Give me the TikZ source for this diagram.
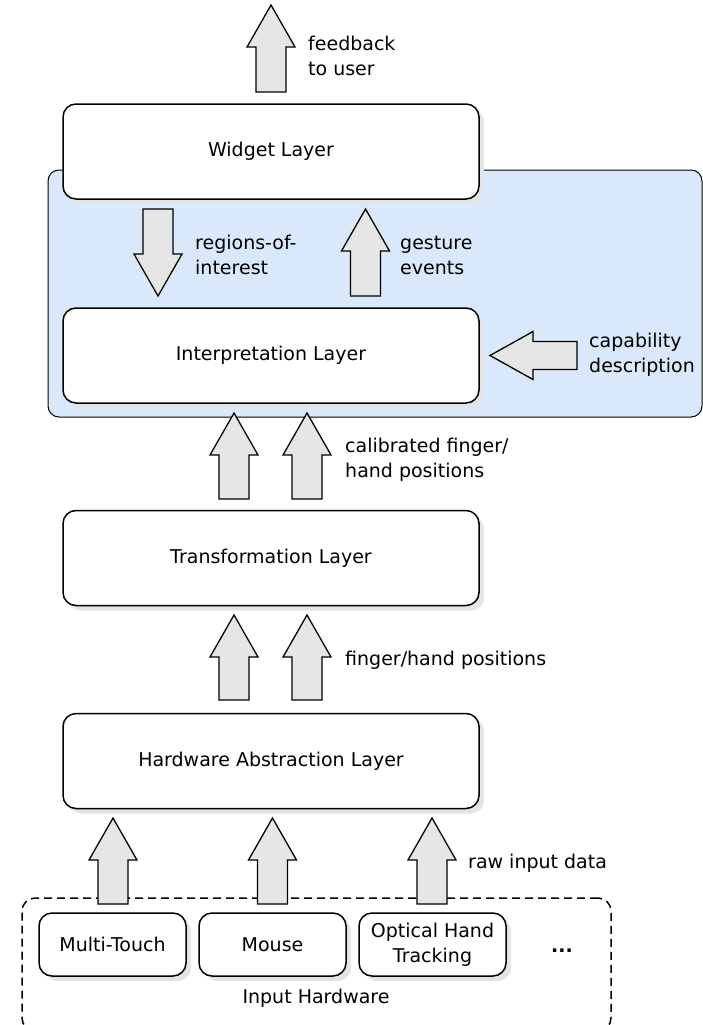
\documentclass[tikz,border=0pt]{standalone}
\usepackage{fontspec}
\setmainfont{DejaVu Sans}
\usetikzlibrary{shadows}
\definecolor{bluefill}{HTML}{DAE8FC}
\definecolor{arrowgray}{HTML}{E6E6E6}
\definecolor{shadowgray}{HTML}{E4E4E4}
% block arrows: #1 = centre, #2 = tip, #3 = base
\newcommand\blkup[3]{\draw[blockarrow] (#1-15,#3) -- (#1-15,#2+42) -- (#1-24,#2+42) -- (#1,#2) -- (#1+24,#2+42) -- (#1+15,#2+42) -- (#1+15,#3) -- cycle;}
\newcommand\blkdown[3]{\draw[blockarrow] (#1-15,#3) -- (#1-15,#2-42) -- (#1-24,#2-42) -- (#1,#2) -- (#1+24,#2-42) -- (#1+15,#2-42) -- (#1+15,#3) -- cycle;}
\newcommand\blkleft[3]{\draw[blockarrow] (#3,#1-14) -- (#2+43,#1-14) -- (#2+43,#1-24) -- (#2,#1) -- (#2+43,#1+24) -- (#2+43,#1+14) -- (#3,#1+14) -- cycle;}
\begin{document}
\begin{tikzpicture}[x=1pt,y=-1pt,
  font=\fontsize{19}{25}\selectfont,
  layer/.style={draw, line width=1.5pt, rounded corners=13pt, fill=white,
    minimum width=416pt, minimum height=95pt,
    general shadow={fill=shadowgray, shadow xshift=5pt, shadow yshift=-5pt}},
  hwbox/.style={draw, line width=1.5pt, rounded corners=13pt, fill=white,
    minimum width=147pt, minimum height=63pt, align=center, inner sep=0pt,
    general shadow={fill=shadowgray, shadow xshift=5pt, shadow yshift=-5pt}},
  blockarrow/.style={draw, line width=1.3pt, fill=arrowgray, line join=miter},
  lbl/.style={anchor=west, inner sep=0pt, align=left}]
\useasboundingbox (0,0) rectangle (702,1025);

% container
\node[draw, line width=1pt, fill=bluefill, rounded corners=11pt,
  minimum width=654pt, minimum height=247pt, inner sep=0pt] (interp-area) at (375,293.5) {};

% layers
\node[layer] (widget) at (271,151.5) {Widget Layer};
\node[layer] (interp) at (271,355.5) {Interpretation Layer};
\node[layer] (trans) at (271,558) {Transformation Layer};
\node[layer] (hal) at (271,761) {Hardware Abstraction Layer};

% input hardware
\node[draw, line width=1.5pt, dash pattern=on 8pt off 5pt, rounded corners=13pt,
  minimum width=589pt, minimum height=133pt, inner sep=0pt] (hw) at (316.5,964.5) {};
\node[hwbox] (mt) at (112.5,944.5) {Multi-Touch};
\node[hwbox] (mouse) at (272.5,944.5) {Mouse};
\node[hwbox] (opt) at (432.5,944.5) {Optical Hand\\Tracking};
\node[font=\fontsize{19}{25}\selectfont\bfseries] (dots) at (562,951) {...};
\node (hwlabel) at (316,998) {Input Hardware};

% arrows
\blkup{271}{5}{92}
\blkdown{158}{296}{209}
\blkup{365.5}{209}{296}
\blkleft{355.5}{490}{577}
\blkup{234}{413}{499}
\blkup{307}{413}{499}
\blkup{234}{615}{700}
\blkup{307}{615}{700}
\blkup{113}{818}{904}
\blkup{272.5}{818}{904}
\blkup{432}{818}{904}

% labels
\node[lbl] (l1) at (308,55.5) {feedback\\to user};
\node[lbl] (l2) at (195,255) {regions-of-\\interest};
\node[lbl] (l3) at (400,255) {gesture\\events};
\node[lbl] (l4) at (589,355) {capability\\description};
\node[lbl] (l5) at (345,460) {calibrated finger/\\hand positions};
\node[lbl] (l6) at (345,660) {finger/hand positions};
\node[lbl] (l7) at (468,863) {raw input data};
\end{tikzpicture}
\end{document}
